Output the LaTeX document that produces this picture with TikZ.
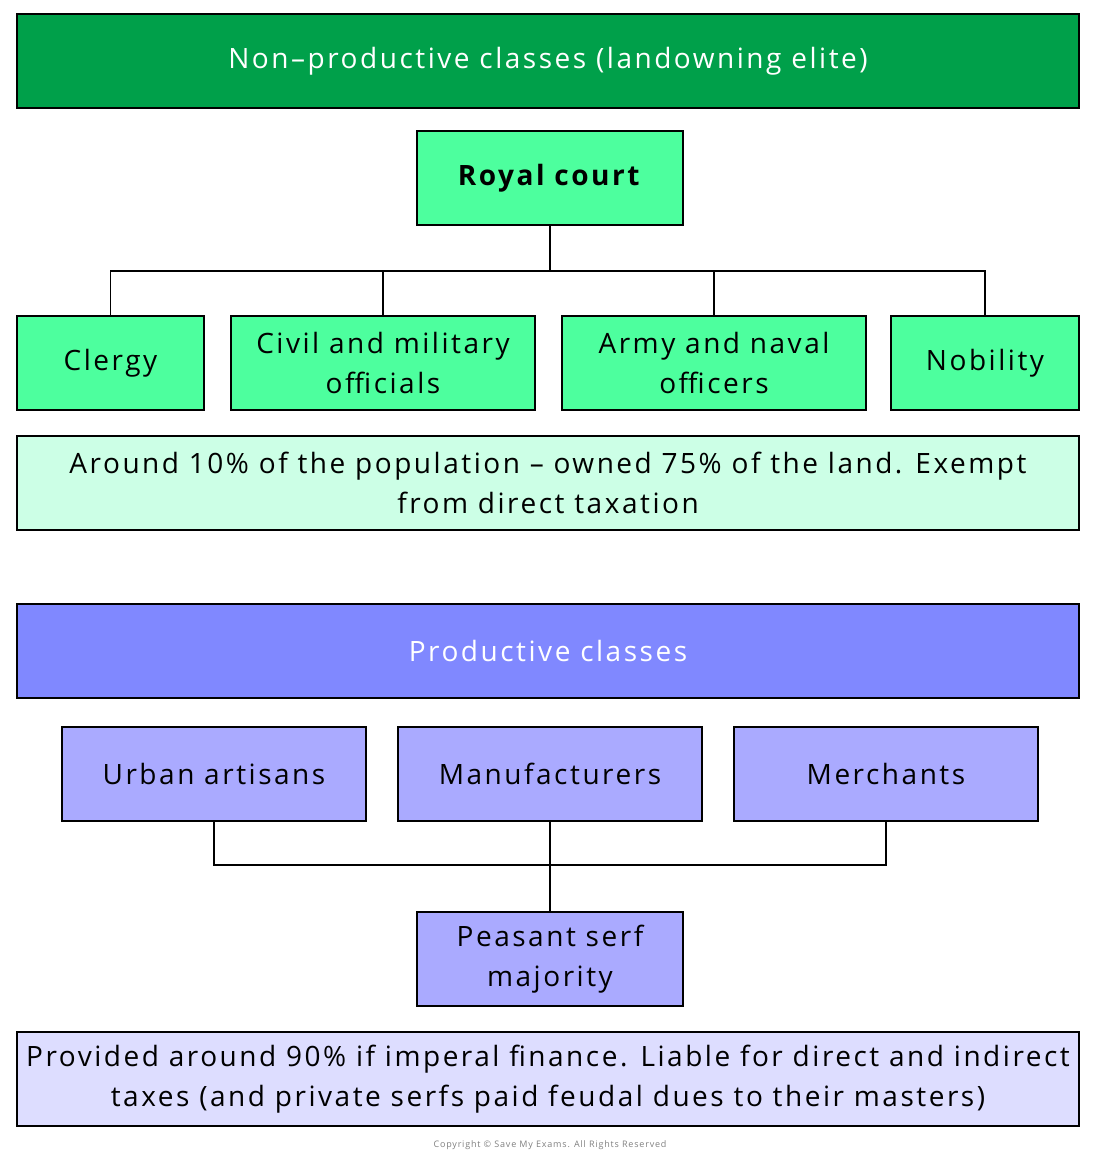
\documentclass[tikz,border=0pt]{standalone}
\usepackage{fontspec}
\setmainfont{Open Sans}[LetterSpace=9]
\definecolor{dg}{HTML}{00A04A}
\definecolor{lg}{HTML}{4DFF9E}
\definecolor{pg}{HTML}{CCFFE6}
\definecolor{db}{HTML}{8088FF}
\definecolor{lb}{HTML}{AAAAFF}
\definecolor{pb}{HTML}{DDDDFF}
\begin{document}
\begin{tikzpicture}[x=1pt,y=-1pt,
  box/.style={draw=black,line width=1.2pt,align=center,font=\fontsize{28}{40}\selectfont,inner sep=0pt},
  ln/.style={draw=black,line width=1.2pt}]
\useasboundingbox (0,0) rectangle (1100,1159);
\newcommand\bx[6]{\node[box,fill=#5,minimum width=#3-#1,minimum height=#4-#2] (#6) at ({(#1+#3)/2},{(#2+#4)/2})}
\bx{17}{14}{1079}{108}{dg}{t1} {\textcolor{white}{Non–productive classes (landowning elite)}};
\bx{417}{131}{683}{225}{lg}{rc} {\textbf{Royal court}};
\bx{17}{316}{204}{410}{lg}{cl} {Clergy};
\bx{231}{316}{535}{410}{lg}{cm} {Civil and military\\officials};
\bx{562}{316}{866}{410}{lg}{an} {Army and naval\\officers};
\bx{891}{316}{1079}{410}{lg}{nb} {Nobility};
\bx{17}{436}{1079}{530}{pg}{i1} {Around 10\% of the population – owned 75\% of the land. Exempt\\from direct taxation};
\bx{17}{604}{1079}{698}{db}{t2} {\textcolor{white}{Productive classes}};
\bx{62}{727}{366}{821}{lb}{ua} {Urban artisans};
\bx{398}{727}{702}{821}{lb}{mf} {Manufacturers};
\bx{734}{727}{1038}{821}{lb}{mc} {Merchants};
\bx{417}{912}{683}{1006}{lb}{ps} {Peasant serf\\majority};
\bx{17}{1032}{1079}{1126}{pb}{i2} {Provided around 90\% if imperal finance. Liable for direct and indirect\\taxes (and private serfs paid feudal dues to their masters)};
\coordinate (h) at (550,271);
\draw[ln] (rc.south) -- (h);
\draw[ln] (h) -| (cl.north);
\draw[ln] (h) -| (nb.north);
\draw[ln] (cm.north) -- (cm.north|-h);
\draw[ln] (an.north) -- (an.north|-h);
\coordinate (k) at (550,865);
\draw[ln] (ua.south) |- (k) -| (mc.south);
\draw[ln] (mf.south) -- (ps.north);
\node[text=gray,font=\fontsize{9}{10}\selectfont] (cp) at (550,1145) {Copyright © Save My Exams. All Rights Reserved};
\end{tikzpicture}
\end{document}
